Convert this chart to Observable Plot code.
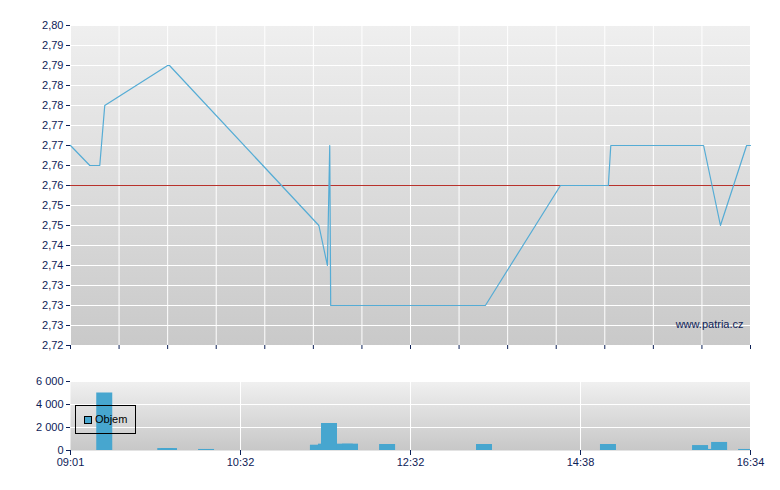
<!DOCTYPE html>
<html>
<head>
<meta charset="utf-8">
<script src="https://cdn.jsdelivr.net/npm/d3@7"></script>
<script src="https://cdn.jsdelivr.net/npm/@observablehq/plot@0.6"></script>
<style>
  body { margin: 0; background: #fff; }
  #wrap { position: relative; width: 780px; height: 490px; font-family: "Liberation Sans", Arial, sans-serif; }
  #wrap svg { display: block; }
  #legend { position: absolute; left: 75px; top: 405px; width: 59px; height: 27px; border: 1px solid #000; }
  #legend .sw { position: absolute; left: 8px; top: 10px; width: 6px; height: 6px; border: 1px solid #000; background: #47a6cf; }
  #legend .lb { position: absolute; left: 19px; top: 7px; font-size: 11px; line-height: 13px; color: #000; }
</style>
</head>
<body>
<div id="wrap"></div>
<script>
// ---- data ----
const xLabels = ["09:01", "10:32", "12:32", "14:38", "16:34"];
const yTickValues = [2.80, 2.795, 2.79, 2.785, 2.78, 2.775, 2.77, 2.765, 2.76, 2.755, 2.75, 2.745, 2.74, 2.735, 2.73, 2.725, 2.72];
const yTickLabels = ["2,80", "2,79", "2,79", "2,78", "2,78", "2,77", "2,77", "2,76", "2,76", "2,75", "2,75", "2,74", "2,74", "2,73", "2,73", "2,73", "2,72"];
const volTickValues = [0, 2000, 4000, 6000];
const volTickLabels = ["0", "2 000", "4 000", "6 000"];

const priceTimes = ["09:01", "09:11:20", "09:16:40", "09:19:20", "09:53", "09:54", "11:27:20", "11:33:20", "11:35", "11:35:40", "13:27:30", "14:23:10", "14:57", "14:58:40", "16:02", "16:13:30", "16:31:20", "16:34"];
const prices = [2.77, 2.765, 2.765, 2.78, 2.79, 2.79, 2.75, 2.74, 2.77, 2.73, 2.73, 2.76, 2.76, 2.77, 2.77, 2.75, 2.77, 2.77];

const volTimes = ["09:19:20", "09:52", "09:54", "10:13:50", "11:27", "11:32:40", "11:34:50", "11:46", "11:49:40", "12:15:50", "13:26:50", "14:57:05", "15:59:55", "16:07:25", "16:12:55", "16:31:20"];
const volumes = [5000, 170, 170, 90, 460, 550, 2350, 550, 550, 520, 520, 520, 430, 90, 700, 90];

const refPrice = 2.76;
const watermark = "www.patria.cz";
const legendLabel = "Objem";

// ---- helpers ----
const navy = "#0d2157";
const lineColor = "#55acd5";
const barColor = "#47a6cf";
const font = "'Liberation Sans', Arial, sans-serif";

const toMin = s => { const [h, m, sec = 0] = s.split(":").map(Number); return h * 60 + m + sec / 60; };
// the time axis is piecewise: labelled times are evenly spaced
const pos = d3.scaleLinear().domain(xLabels.map(toMin)).range(d3.range(xLabels.length));
const xMax = xLabels.length - 1;

const priceData = priceTimes.map((t, i) => ({p: pos(toMin(t)), price: prices[i]}));
const volData = volTimes.map((t, i) => ({p: pos(toMin(t)), v: volumes[i]}));
const mainGrid = d3.range(15).map(k => k * xMax / 14);

function addGradient(svg, id, c0, c1) {
  const ns = "http://www.w3.org/2000/svg";
  const defs = document.createElementNS(ns, "defs");
  const g = document.createElementNS(ns, "linearGradient");
  g.setAttribute("id", id);
  g.setAttribute("x1", "0"); g.setAttribute("y1", "0"); g.setAttribute("x2", "0"); g.setAttribute("y2", "1");
  [[0, c0], [1, c1]].forEach(([o, c]) => {
    const s = document.createElementNS(ns, "stop");
    s.setAttribute("offset", o); s.setAttribute("stop-color", c);
    g.appendChild(s);
  });
  defs.appendChild(g);
  svg.insertBefore(defs, svg.firstChild);
}

const style = {fontFamily: font, fontSize: "11px", color: navy, background: "transparent", overflow: "visible"};

const main = Plot.plot({
  width: 780, height: 355,
  marginTop: 25, marginBottom: 10, marginLeft: 70, marginRight: 30,
  style,
  x: {domain: [0, xMax], label: null},
  y: {domain: [2.72, 2.80], label: null},
  marks: [
    Plot.frame({fill: "url(#bgMain)", stroke: null}),
    Plot.gridY(yTickValues, {stroke: "#fff", strokeOpacity: 1}),
    Plot.gridX(mainGrid, {stroke: "#fff", strokeOpacity: 1}),
    Plot.ruleY([refPrice], {stroke: "#b8322c"}),
    Plot.line(priceData, {x: "p", y: "price", stroke: lineColor, strokeWidth: 1.2}),
    Plot.text([watermark], {frameAnchor: "bottom-right", dx: -7, dy: -21, lineAnchor: "middle", fill: navy, fontSize: 11}),
    Plot.axisY(yTickValues, {tickSize: 4, tickPadding: 3, tickFormat: d => yTickLabels[yTickValues.indexOf(d)], line: true, label: null}),
    Plot.axisX(mainGrid, {tickSize: 4, tickFormat: () => "", line: true, label: null})
  ]
});
addGradient(main, "bgMain", "#efefef", "#c9c9c9");

const vol = Plot.plot({
  width: 780, height: 135,
  marginTop: 26, marginBottom: 40, marginLeft: 70, marginRight: 30,
  style,
  x: {domain: [0, xMax], label: null},
  y: {domain: [0, 6000], label: null},
  marks: [
    Plot.frame({fill: "url(#bgVol)", stroke: null}),
    Plot.gridY(volTickValues.slice(1), {stroke: "#fff", strokeOpacity: 1}),
    Plot.gridX(d3.range(1, xLabels.length), {stroke: "#fff", strokeOpacity: 1}),
    Plot.ruleX(volData, {x: "p", y1: 0, y2: "v", stroke: barColor, strokeWidth: 16, dx: -0.5, clip: true}),
    Plot.axisY(volTickValues, {tickSize: 4, tickPadding: 3, tickFormat: d => volTickLabels[volTickValues.indexOf(d)], line: true, label: null}),
    Plot.axisX(d3.range(xLabels.length), {tickSize: 5, tickPadding: 3, tickFormat: i => xLabels[i], line: true, label: null})
  ]
});
addGradient(vol, "bgVol", "#f0f0f0", "#c7c7c7");

const wrap = document.getElementById("wrap");
wrap.appendChild(main);
wrap.appendChild(vol);

const legend = document.createElement("div");
legend.id = "legend";
legend.innerHTML = `<div class="sw"></div><div class="lb"></div>`;
legend.querySelector(".lb").textContent = legendLabel;
wrap.appendChild(legend);
</script>
</body>
</html>
